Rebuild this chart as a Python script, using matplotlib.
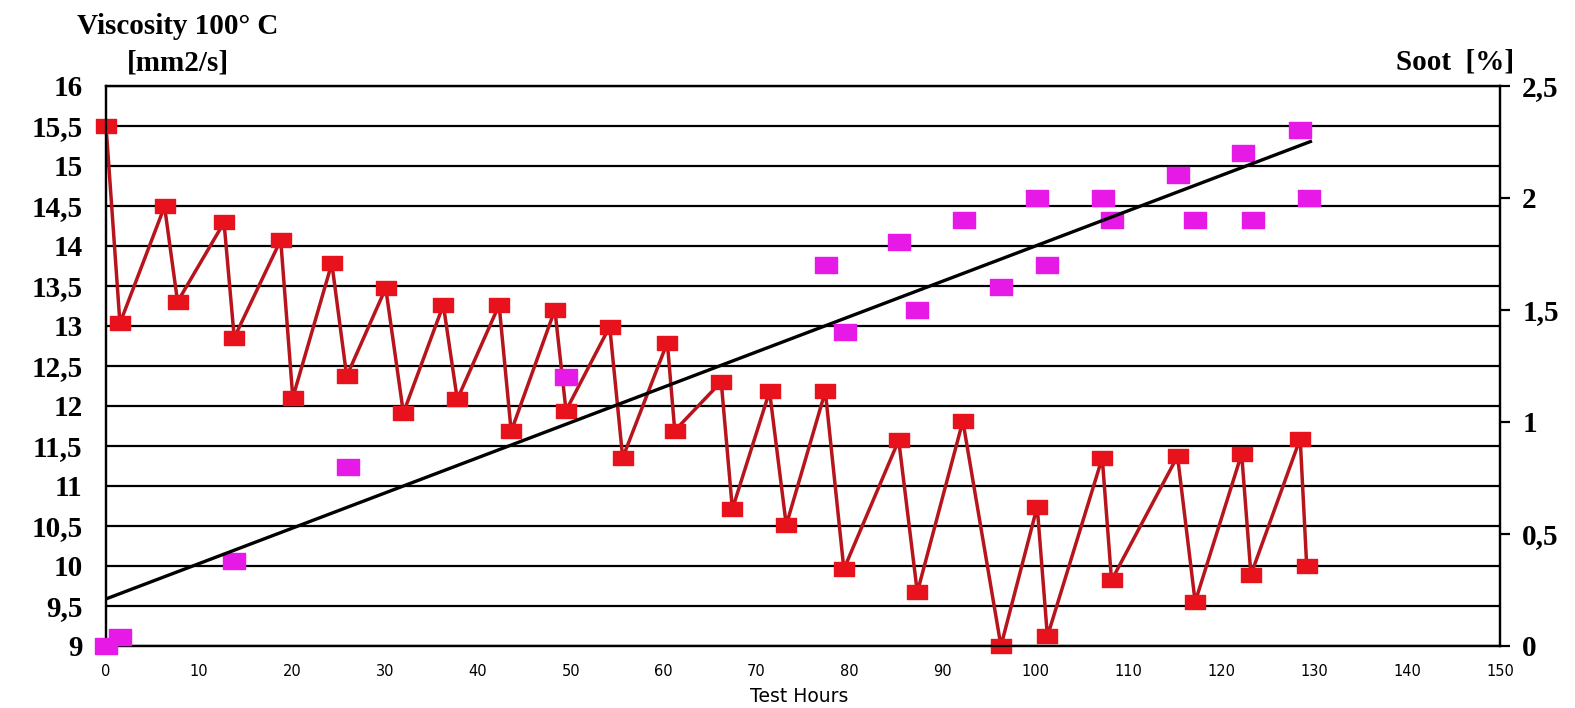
import matplotlib
matplotlib.use("Agg")
import matplotlib.pyplot as plt
from matplotlib.path import Path
import numpy as np

# ---------------- data ----------------
visc_hours = [0, 1.5, 6.3, 7.7, 12.7, 13.8, 18.8, 20.1, 24.3, 25.9, 30.1, 32.0,
              36.3, 37.8, 42.3, 43.6, 48.3, 49.5, 54.2, 55.6, 60.4, 61.2, 66.2,
              67.4, 71.4, 73.2, 77.4, 79.4, 85.3, 87.3, 92.2, 96.3, 100.2, 101.3,
              107.2, 108.2, 115.3, 117.2, 122.2, 123.2, 128.5, 129.2]
visc_values = [15.5, 13.03, 14.49, 13.30, 14.29, 12.85, 14.07, 12.10, 13.78, 12.37,
               13.47, 11.91, 13.26, 12.08, 13.26, 11.68, 13.2, 11.94, 12.99, 11.35,
               12.79, 11.69, 12.30, 10.71, 12.18, 10.51, 12.18, 9.96, 11.57, 9.67,
               11.81, 9.0, 10.74, 9.12, 11.35, 9.82, 11.37, 9.55, 11.40, 9.89,
               11.59, 10.0]

soot_hours = [0, 1.5, 13.8, 26.0, 49.5, 77.5, 79.5, 85.3, 87.3, 92.3, 96.3, 100.2,
              101.3, 107.3, 108.2, 115.4, 117.2, 122.3, 123.4, 128.5, 129.4]
soot_values = [0.0, 0.04, 0.38, 0.80, 1.20, 1.70, 1.40, 1.80, 1.50, 1.90, 1.60, 2.00,
               1.70, 2.00, 1.90, 2.10, 1.90, 2.20, 1.90, 2.30, 2.00]

trend_hours = [0, 129.6]
trend_soot = [0.21, 2.25]

x_ticks = [0, 10, 20, 30, 40, 50, 60, 70, 80, 90, 100, 110, 120, 130, 140, 150]
left_ticks = [9, 9.5, 10, 10.5, 11, 11.5, 12, 12.5, 13, 13.5, 14, 14.5, 15, 15.5, 16]
left_labels = ["9", "9,5", "10", "10,5", "11", "11,5", "12", "12,5", "13", "13,5",
               "14", "14,5", "15", "15,5", "16"]
right_ticks = [0, 0.5, 1, 1.5, 2, 2.5]
right_labels = ["0", "0,5", "1", "1,5", "2", "2,5"]

# ---------------- figure ----------------
W, H = 1575, 708
fig = plt.figure(figsize=(W / 100, H / 100), dpi=100)
fig.patch.set_facecolor("white")

L, R, T, B = 106, 1500, 85.5, 646
ax = fig.add_axes([L / W, 1 - B / H, (R - L) / W, (B - T) / H])
ax.set_xlim(0, 150)
ax.set_ylim(9, 16)

# wide rectangular marker (slightly wider than tall)
rect = Path([(-1, -0.7), (1, -0.7), (1, 0.7), (-1, 0.7), (-1, -0.7)],
            [Path.MOVETO, Path.LINETO, Path.LINETO, Path.LINETO, Path.CLOSEPOLY])

for yv in left_ticks:
    ax.axhline(yv, color="black", lw=1.6, zorder=1)

ax.plot(visc_hours, visc_values, color="#b8141c", lw=2.5, zorder=3,
        marker=rect, markersize=15, markerfacecolor="#e8121c",
        markeredgecolor="#e8121c", clip_on=False)

serif_bold = dict(family="Liberation Serif", weight="bold", size=21)
ax.set_yticks(left_ticks)
ax.set_yticklabels(left_labels, fontdict=serif_bold)
ax.tick_params(axis="y", length=0, pad=17)
ax.set_xticks(x_ticks)
ax.set_xticklabels([str(v) for v in x_ticks], family="DejaVu Sans", size=10.5)
ax.tick_params(axis="x", length=0, pad=13)

for s in ax.spines.values():
    s.set_color("black")
    s.set_linewidth(1.6)

ax2 = ax.twinx()
ax2.set_ylim(0, 2.5)
ax2.set_xlim(0, 150)
ax2.plot(soot_hours, soot_values, linestyle="none", marker=rect, markersize=16,
         markerfacecolor="#e619e6", markeredgecolor="#e619e6", zorder=4,
         clip_on=False)
ax2.plot(trend_hours, trend_soot, color="black", lw=2.4, zorder=5)
ax2.set_yticks(right_ticks)
ax2.set_yticklabels(right_labels, fontdict=serif_bold)
ax2.tick_params(axis="y", length=7, width=1.6, pad=9, color="black")
for s in ax2.spines.values():
    s.set_color("black")
    s.set_linewidth(1.6)

# titles / labels
fig.text(178 / W, 1 - 27 / H, "Viscosity 100° C", ha="center", va="center",
         family="Liberation Serif", weight="bold", size=21)
fig.text(178 / W, 1 - 63 / H, "[mm2/s]", ha="center", va="center",
         family="Liberation Serif", weight="bold", size=21)
fig.text(1455 / W, 1 - 62 / H, "Soot  [%]", ha="center", va="center",
         family="Liberation Serif", weight="bold", size=21)
fig.text(799 / W, 1 - 697 / H, "Test Hours", ha="center", va="center",
         family="DejaVu Sans", size=13.5)

fig.savefig("out.png", dpi=100, facecolor="white")
